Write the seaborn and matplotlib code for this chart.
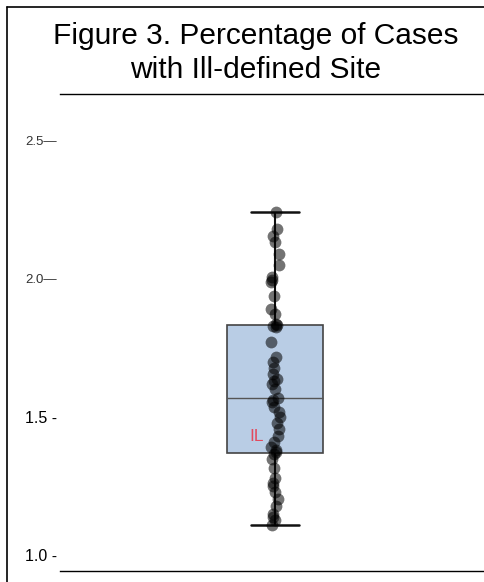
import numpy as np
import pandas as pd
import matplotlib
matplotlib.use("Agg")
import matplotlib.pyplot as plt
from matplotlib.lines import Line2D
import seaborn as sns

# Percentage of cases with ill-defined primary site, one value per state
pct_ill_defined = [
    2.241, 2.181, 2.156, 2.134, 2.091, 2.051, 2.007, 1.996, 1.989, 1.938,
    1.891, 1.873, 1.836, 1.830, 1.833, 1.826, 1.772, 1.717, 1.699, 1.678,
    1.656, 1.638, 1.630, 1.620, 1.601, 1.569, 1.562, 1.554, 1.536, 1.518,
    1.500, 1.478, 1.457, 1.431, 1.409, 1.391, 1.380, 1.373, 1.366, 1.348,
    1.315, 1.279, 1.261, 1.250, 1.228, 1.203, 1.178, 1.149, 1.138, 1.127,
    1.109,
]
highlight_label = "IL"
highlight_value = 1.431

tick_values = [1.0, 1.5, 2.0, 2.5]
tick_labels = ["1.0 -", "1.5 -", "2.0\u2014", "2.5\u2014"]
title_text = "Figure 3. Percentage of Cases\nwith Ill-defined Site"

df = pd.DataFrame({"group": "all", "pct": pct_ill_defined})

sns.set_style("white")
plt.rcParams["font.family"] = ["Liberation Sans", "DejaVu Sans"]

W, H = 485, 582
fig = plt.figure(figsize=(W / 100, H / 100), dpi=100)
ax = fig.add_axes([60 / W, 1 - 571 / H, 425 / W, (571 - 94) / H])

sns.boxplot(
    data=df, x="group", y="pct", ax=ax, width=0.226, whis=1.5,
    showfliers=False,
    boxprops=dict(facecolor="#b9cde5", edgecolor="#444444", linewidth=1.2),
    medianprops=dict(color="#555555", linewidth=1.0),
    whiskerprops=dict(color="#111111", linewidth=1.5),
    capprops=dict(color="#111111", linewidth=1.8),
)
np.random.seed(3)
sns.stripplot(
    data=df, x="group", y="pct", ax=ax, jitter=0.011, size=8.5,
    color="black", alpha=0.55, linewidth=0,
)

ax.annotate(highlight_label, xy=(0, highlight_value), xytext=(-8, 0),
            textcoords="offset points", ha="right", va="center",
            color="#e24a5e", fontsize=12.5)

ax.set_xlim(-0.506, 0.494)
ax.set_ylim(0.942, 2.670)
ax.set_xticks([])
ax.set_xlabel("")
ax.set_ylabel("")
ax.set_yticks(tick_values)
ax.set_yticklabels(tick_labels)
ax.tick_params(axis="y", length=0, pad=2)
for lab, val in zip(ax.get_yticklabels(), tick_values):
    if val >= 2.0:
        lab.set_fontsize(9.5)
        lab.set_color("#333333")
    else:
        lab.set_fontsize(11.5)
        lab.set_color("black")

for side in ("left", "right"):
    ax.spines[side].set_visible(False)
for side in ("top", "bottom"):
    ax.spines[side].set_visible(True)
    ax.spines[side].set_color("black")
    ax.spines[side].set_linewidth(1.0)

# frame lines along the top and left edges of the figure
fig.add_artist(Line2D([7 / W, 1], [1 - 7 / H, 1 - 7 / H], color="black", lw=1.2))
fig.add_artist(Line2D([7 / W, 7 / W], [0, 1 - 7 / H], color="black", lw=1.2))

fig.text(256 / W, 1 - 22 / H, title_text, ha="center", va="top",
         fontsize=21.5, linespacing=1.28, color="black")

fig.savefig("out.png", dpi=100)
